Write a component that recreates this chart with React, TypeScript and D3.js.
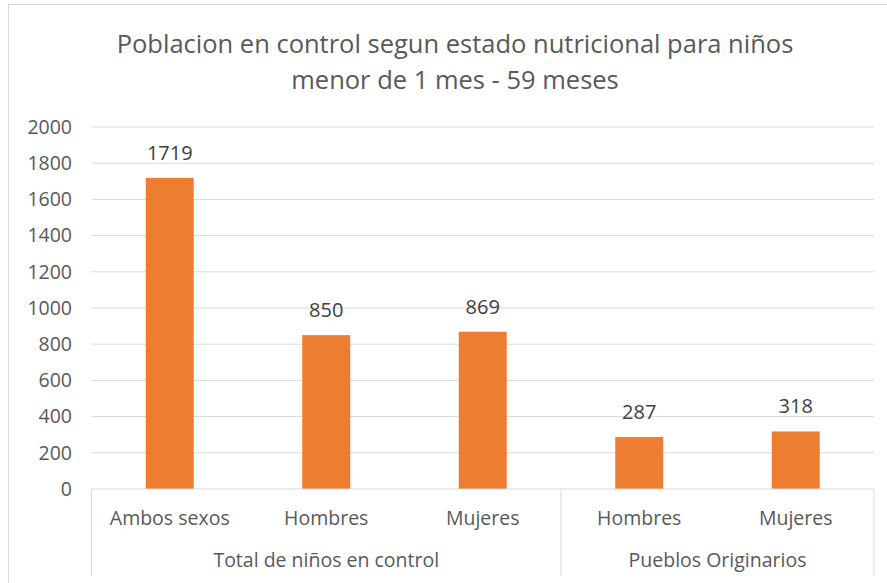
import React from "react";
import * as d3 from "d3";

const categories = ["Ambos sexos", "Hombres", "Mujeres", "Hombres", "Mujeres"];
const values = [1719, 850, 869, 287, 318];
const groups = [
  { label: "Total de niños en control", start: 0, end: 3 },
  { label: "Pueblos Originarios", start: 3, end: 5 },
];
const yTicks = [0, 200, 400, 600, 800, 1000, 1200, 1400, 1600, 1800, 2000];
const titleLines = [
  "Poblacion en control segun estado nutricional para niños",
  "menor de 1 mes - 59 meses",
];

const W = 887;
const H = 583;
const left = 91.5;
const right = 874;
const top = 127;
const bottom = 489;
const font = "'Open Sans', sans-serif";

export default function App() {
  const x = d3
    .scaleBand<number>()
    .domain(d3.range(categories.length))
    .range([left, right])
    .paddingInner(0)
    .paddingOuter(0);
  const y = d3.scaleLinear().domain([0, 2000]).range([bottom, top]);
  const bw = 48;

  return (
    <svg
      width={W}
      height={H}
      style={{ position: "absolute", left: 0, top: 0, background: "#fff" }}
      fontFamily={font}
    >
      <rect x={8.5} y={4.5} width={W} height={H} fill="#fff" stroke="#d9d9d9" />
      {titleLines.map((t, i) => (
        <text
          key={i}
          x={455}
          y={53 + i * 36}
          textAnchor="middle"
          fontSize={25.5}
          fill="#595959"
        >
          {t}
        </text>
      ))}
      {yTicks.map((t) => (
        <g key={t}>
          {t > 0 && (
            <line x1={left} x2={right} y1={y(t)} y2={y(t)} stroke="#d9d9d9" strokeWidth={1} />
          )}
          <text
            x={72}
            y={y(t)}
            dy="0.35em"
            textAnchor="end"
            fontSize={19.5}
            fill="#595959"
          >
            {t}
          </text>
        </g>
      ))}
      {values.map((v, i) => {
        const cx = (x(i) as number) + x.bandwidth() / 2;
        return (
          <g key={i}>
            <rect x={cx - bw / 2} y={y(v)} width={bw} height={bottom - y(v)} fill="#ED7D31" />
            <text x={cx} y={y(v) - 18} textAnchor="middle" fontSize={20} fill="#404040">
              {v}
            </text>
            <text x={cx} y={525} textAnchor="middle" fontSize={19.5} fill="#595959">
              {categories[i]}
            </text>
          </g>
        );
      })}
      <line x1={left} x2={right} y1={bottom} y2={bottom} stroke="#d9d9d9" />
      {[0, 3, 5].map((k) => {
        const xx = k === 5 ? right : (x(k) as number);
        return <line key={k} x1={xx} x2={xx} y1={bottom} y2={576} stroke="#d9d9d9" />;
      })}
      {groups.map((g) => {
        const x0 = x(g.start) as number;
        const x1 = g.end === categories.length ? right : (x(g.end) as number);
        return (
          <text key={g.label} x={(x0 + x1) / 2} y={567} textAnchor="middle" fontSize={19.5} fill="#595959">
            {g.label}
          </text>
        );
      })}
    </svg>
  );
}
